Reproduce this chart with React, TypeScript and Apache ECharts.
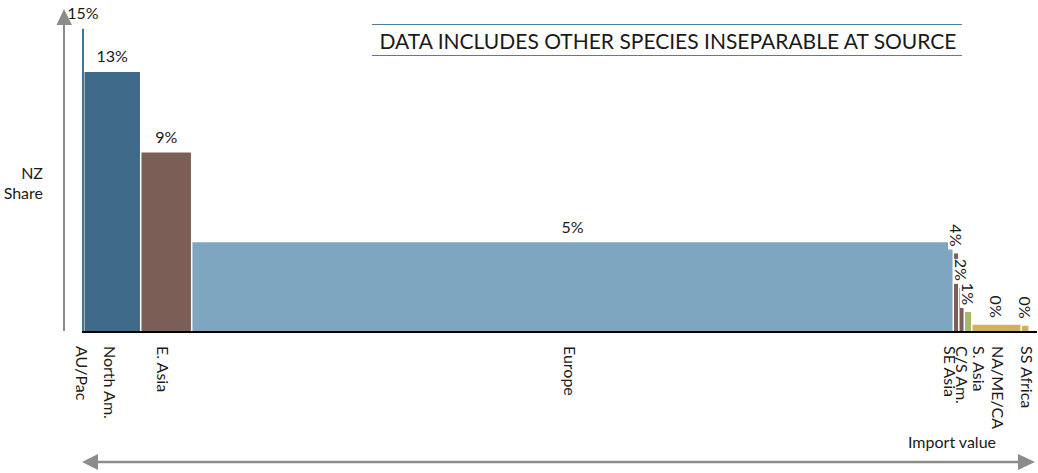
import React, { useEffect, useRef } from "react";
import * as echarts from "echarts";

const categories = ["AU/Pac", "North Am.", "E. Asia", "Europe", "SE Asia", "C/S Am.", "S. Asia", "NA/ME/CA", "SS Africa"];
const importValue = [25, 570, 510, 7620, 55, 55, 75, 495, 80];
const nzShare = [15.4, 13.2, 9.1, 4.52, 3.95, 2.2, 0.97, 0.32, 0.27];
const titleText = "DATA INCLUDES OTHER SPECIES INSEPARABLE AT SOURCE";
const yAxisName = "NZ\nShare";
const xAxisName = "Import value";

const barColors = ["#467393", "#3F6A89", "#7B5E55", "#7FA6C0", "#7B5E55", "#7B5E55", "#A9B76B", "#D2B061", "#D2B061"];
const verticalValueLabel = [false, false, false, false, true, true, true, true, true];
const categoryLabelNudge = [-1, -2, -3, -2, -6, 1, 11, 2, 2.5];

const FONT = "Lato, 'Open Sans', sans-serif";
const TEXT = "#1a1a1a";
const ARROW = "#8c8c8c";

export default function App() {
  const ref = useRef<HTMLDivElement>(null);
  useEffect(() => {
    if (!ref.current) return;
    const chart = echarts.init(ref.current, null, { renderer: "svg" });
    const total = importValue.reduce((a, b) => a + b, 0);
    let acc = 0;
    const items = categories.map((c, i) => {
      const s = acc;
      acc += importValue[i];
      return [s, acc, nzShare[i], i];
    });
    const renderItem = (params: any, api: any) => {
      const i = api.value(3);
      const p0 = api.coord([api.value(0), api.value(2)]);
      const p1 = api.coord([api.value(1), 0]);
      const x = p0[0];
      const y = p0[1];
      const w = Math.max(p1[0] - p0[0] - 1.5, 2);
      const h = p1[1] - p0[1];
      const cx = x + w / 2;
      const label = Math.round(nzShare[i]) + "%";
      const vertical = verticalValueLabel[i];
      const valueText = vertical
        ? {
            type: "group",
            x: cx,
            y: y - 5,
            rotation: -Math.PI / 2,
            children: [
              {
                type: "rect",
                shape: { x: -24, y: -8, width: 25, height: 16 },
                style: { fill: "#ffffff" },
              },
              {
                type: "text",
                x: -2,
                y: 0,
                style: {
                  text: label,
                  fill: TEXT,
                  fontSize: 16,
                  fontFamily: FONT,
                  align: "right",
                  verticalAlign: "middle",
                },
              },
            ],
          }
        : {
            type: "text",
            x: cx,
            y: y - 8,
            style: {
              text: label,
              fill: TEXT,
              fontSize: 16,
              fontFamily: FONT,
              align: "center",
              verticalAlign: "bottom",
            },
          };
      return {
        type: "group",
        children: [
          {
            type: "rect",
            shape: { x, y, width: w, height: h },
            style: { fill: barColors[i] },
          },
          valueText,
          {
            type: "group",
            x: cx + categoryLabelNudge[i],
            y: 346,
            rotation: -Math.PI / 2,
            children: [
              {
                type: "text",
                x: 0,
                y: 0,
                style: {
                  text: categories[i],
                  fill: TEXT,
                  fontSize: 16,
                  fontFamily: FONT,
                  align: "left",
                  verticalAlign: "middle",
                },
              },
            ],
          },
        ],
      };
    };
    chart.setOption({
      animation: false,
      grid: { left: 82, right: 8, top: 17, bottom: 142 },
      xAxis: { type: "value", min: 0, max: total, show: false },
      yAxis: { type: "value", min: 0, max: 16, show: false },
      series: [
        {
          type: "custom",
          renderItem,
          data: items,
          clip: false,
          z: 2,
        },
      ],
      graphic: [
        { type: "line", shape: { x1: 82, y1: 332, x2: 1037, y2: 332 }, style: { stroke: "#000", lineWidth: 2 }, z: 10 },
        { type: "line", shape: { x1: 64, y1: 22, x2: 64, y2: 331 }, style: { stroke: ARROW, lineWidth: 2 } },
        { type: "polygon", shape: { points: [[56.5, 25], [72, 25], [64, 9]] }, style: { fill: ARROW } },
        { type: "line", shape: { x1: 95, y1: 462, x2: 1020, y2: 462 }, style: { stroke: ARROW, lineWidth: 2.5 } },
        { type: "polygon", shape: { points: [[82, 462], [98, 454], [98, 470]] }, style: { fill: ARROW } },
        { type: "polygon", shape: { points: [[1035, 462], [1018, 454], [1018, 470]] }, style: { fill: ARROW } },
        { type: "line", shape: { x1: 372, y1: 24.5, x2: 962, y2: 24.5 }, style: { stroke: "#4F7FA3", lineWidth: 1.2 } },
        { type: "line", shape: { x1: 372, y1: 55.5, x2: 962, y2: 55.5 }, style: { stroke: "#4F7FA3", lineWidth: 1.2 } },
        {
          type: "text",
          x: 668,
          y: 40,
          style: { text: titleText, fill: TEXT, fontSize: 21, fontFamily: FONT, align: "center", verticalAlign: "middle" },
        },
        {
          type: "text",
          x: 43,
          y: 182,
          style: { text: yAxisName, fill: TEXT, fontSize: 16, lineHeight: 20, fontFamily: FONT, align: "right", verticalAlign: "middle" },
        },
        {
          type: "text",
          x: 952,
          y: 441,
          style: { text: xAxisName, fill: TEXT, fontSize: 16, fontFamily: FONT, align: "center", verticalAlign: "middle" },
        },
      ],
    });
    return () => chart.dispose();
  }, []);
  return <div ref={ref} style={{ position: "absolute", left: 0, top: 0, width: 1038, height: 473 }} />;
}
